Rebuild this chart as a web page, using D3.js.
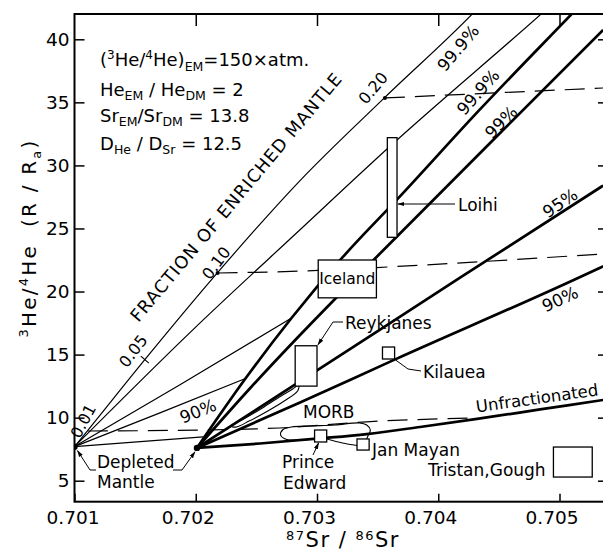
<!DOCTYPE html>
<html>
<head>
<meta charset="utf-8">
<script src="https://cdn.jsdelivr.net/npm/d3@7"></script>
<style>
body{margin:0;background:#fff;}
svg{display:block;font-family:"DejaVu Sans",sans-serif;}
text{white-space:pre;}
</style>
</head>
<body>
<script>
const xTicks = [0.701, 0.702, 0.703, 0.704, 0.705];
const yTicks = [5, 10, 15, 20, 25, 30, 35, 40];

// depleted mantle end members (87Sr/86Sr, 3He/4He)
const dmPoints = [[0.7010, 7.7], [0.70201, 7.6]];

// thin mixing curves from the 0.701 depleted mantle
const thin999 = [[0.7010,7.7],[0.70111,9.0],[0.70158,14.6],[0.70218,21.5],[0.70286,28.8],[0.70356,35.4],[0.70429,42.1],[0.70436,42.8]];
const thin99  = [[0.7010,7.7],[0.70198,17.0],[0.70286,24.9],[0.70360,31.5],[0.70486,42.1],[0.70493,42.7]];
const thin95  = [[0.7010,7.7],[0.70187,12.6],[0.70279,17.9]];
const thin90  = [[0.7010,7.7],[0.70171,10.4],[0.70241,13.1]];
const thinUnf = [[0.7010,7.7],[0.70206,8.47]];

// thick mixing curves from the 0.702 depleted mantle
const thick999 = [[0.70201,7.6],[0.70241,13.1],[0.70279,17.9],[0.70321,22.7],[0.70369,27.6],[0.70434,34.4],[0.70511,42.1],[0.70519,42.9]];
const thick99  = [[0.70201,7.6],[0.70245,12.35],[0.70286,16.55],[0.70327,20.6],[0.70368,24.56],[0.70451,32.57],[0.70536,40.74]];
const thick95  = [[0.70201,7.6],[0.70301,13.8],[0.70418,21.1],[0.70536,28.4]];
const thick90  = [[0.70201,7.6],[0.70286,11.2],[0.70364,14.6],[0.70509,20.8],[0.70536,22.0]];
const thickUnf = [[0.70201,7.6],[0.70253,7.95],[0.70302,8.35],[0.70341,8.70],[0.70385,9.26],[0.70432,9.90],[0.70484,10.65],[0.70536,11.40]];

// lines of equal fraction of enriched mantle
const frac01 = [[0.70111,8.94],[0.70204,9.02],[0.70269,9.18],[0.70344,9.69],[0.70430,9.97]];
const frac10 = [[0.70218,21.47],[0.70301,21.67],[0.70349,21.9],[0.70536,22.98]];
const frac20 = [[0.70356,35.35],[0.70536,36.14]];
const fracDots = [[0.70218,21.47],[0.70356,35.35]];
const fracTick = [0.70158,14.6];

// observed ranges
const boxNames = ["Loihi","Iceland","Reykjanes","Kilauea","Prince Edward","Jan Mayan","Tristan, Gough"];
const boxSr = [[0.70358,0.70366],[0.70301,0.70349],[0.70282,0.70300],[0.70354,0.70364],[0.70298,0.70308],[0.70333,0.70343],[0.70495,0.70527]];
const boxHe = [[24.3,32.2],[19.5,22.5],[12.5,15.7],[14.65,15.6],[8.07,9.02],[7.43,8.31],[5.29,7.67]];

// MORB fields
const morbLeaf = [[0.70229,9.34],[0.70241,9.97],[0.70255,10.77],[0.70269,11.64],[0.70280,12.27],[0.70285,12.59],[0.70284,12.11],[0.70273,11.32],[0.70258,10.45],[0.70244,9.73],[0.70233,9.25]];
const morbBlob = [[0.70298,8.31],[0.70286,8.23],[0.70275,8.27],[0.70270,8.62],[0.70272,9.06],[0.70279,9.26],[0.70294,9.34],[0.70315,9.42],[0.70335,9.58],[0.70341,9.42],[0.70344,9.02],[0.70342,8.54],[0.70341,8.31]];
const morbLink = [[0.70308,8.31],[0.70321,7.99],[0.70333,7.79]];

const width = 603, height = 551;
const pLeft = 74.5, pRight = 605, pTop = 14, pBottom = 501.7;

const x = d3.scaleLinear().domain([0.701, 0.705]).range([74.5, 559.5]);
const y = d3.scaleLinear().domain([5, 40]).range([480.7, 39.3]);

const svg = d3.select("body").append("svg")
  .attr("width", width).attr("height", height);
svg.append("rect").attr("width", width).attr("height", height).attr("fill", "#fff");

const defs = svg.append("defs");
defs.append("clipPath").attr("id", "plot")
  .append("rect").attr("x", pLeft).attr("y", pTop).attr("width", pRight - pLeft).attr("height", pBottom - pTop);
defs.append("marker").attr("id", "arr")
  .attr("viewBox", "0 -4 10 8").attr("refX", 9).attr("refY", 0)
  .attr("markerWidth", 7).attr("markerHeight", 6).attr("markerUnits", "userSpaceOnUse")
  .attr("orient", "auto")
  .append("path").attr("d", "M0,-3L10,0L0,3Z").attr("fill", "#000");

const line = d3.line().x(d => x(d[0])).y(d => y(d[1])).curve(d3.curveMonotoneX);
const closed = d3.line().x(d => x(d[0])).y(d => y(d[1])).curve(d3.curveCatmullRomClosed);
const open = d3.line().x(d => x(d[0])).y(d => y(d[1])).curve(d3.curveCatmullRom);

const plot = svg.append("g").attr("clip-path", "url(#plot)");

// dashed iso-fraction lines
[frac01, frac10, frac20].forEach(d => {
  plot.append("path").attr("d", line(d)).attr("fill", "none")
    .attr("stroke", "#000").attr("stroke-width", 1.2).attr("stroke-dasharray", "20,10");
});

// thin curves
[thin999, thin99, thin95, thin90, thinUnf].forEach(d => {
  plot.append("path").attr("d", line(d)).attr("fill", "none")
    .attr("stroke", "#000").attr("stroke-width", 1.2);
});

// thick curves
[thick999, thick99, thick95, thick90, thickUnf].forEach(d => {
  plot.append("path").attr("d", line(d)).attr("fill", "none")
    .attr("stroke", "#000").attr("stroke-width", 2.7);
});

// MORB
plot.append("path").attr("d", closed(morbLeaf)).attr("fill", "none").attr("stroke", "#000").attr("stroke-width", 1.1);
plot.append("path").attr("d", open(morbBlob)).attr("fill", "none").attr("stroke", "#000").attr("stroke-width", 1.1);
plot.append("path").attr("d", open(morbLink)).attr("fill", "none").attr("stroke", "#000").attr("stroke-width", 1.1);

// boxes
boxNames.forEach((n, i) => {
  plot.append("rect")
    .attr("x", x(boxSr[i][0])).attr("y", y(boxHe[i][1]))
    .attr("width", x(boxSr[i][1]) - x(boxSr[i][0]))
    .attr("height", y(boxHe[i][0]) - y(boxHe[i][1]))
    .attr("fill", "#fff").attr("stroke", "#000").attr("stroke-width", 1.3);
});

// fraction marks
fracDots.forEach(d => {
  plot.append("circle").attr("cx", x(d[0])).attr("cy", y(d[1])).attr("r", 2).attr("fill", "#000");
});
plot.append("line")
  .attr("x1", x(fracTick[0]) - 4).attr("y1", y(fracTick[1]) - 3.5)
  .attr("x2", x(fracTick[0]) + 4).attr("y2", y(fracTick[1]) + 3.5)
  .attr("stroke", "#000").attr("stroke-width", 1.2);

// depleted mantle points
dmPoints.forEach(d => {
  plot.append("circle").attr("cx", x(d[0])).attr("cy", y(d[1])).attr("r", 3.2).attr("fill", "#000");
});

// frame and ticks
svg.append("rect").attr("x", pLeft).attr("y", pTop).attr("width", pRight - pLeft).attr("height", pBottom - pTop)
  .attr("fill", "none").attr("stroke", "#000").attr("stroke-width", 2);

const xb = svg.append("g").attr("transform", `translate(0,${pBottom})`)
  .call(d3.axisBottom(x).tickValues(xTicks).tickSizeInner(-8).tickSizeOuter(0).tickPadding(9).tickFormat(d3.format(".3f")));
const xt = svg.append("g").attr("transform", `translate(0,${pTop})`)
  .call(d3.axisTop(x).tickValues(xTicks.slice(1)).tickSizeInner(-12).tickSizeOuter(0).tickFormat(""));
const yl = svg.append("g").attr("transform", `translate(${pLeft},0)`)
  .call(d3.axisLeft(y).tickValues(yTicks).tickSizeInner(-10).tickSizeOuter(0).tickPadding(5));
const yr = svg.append("g").attr("transform", `translate(${pRight},0)`)
  .call(d3.axisRight(y).tickValues(yTicks).tickSizeInner(-7).tickSizeOuter(0).tickFormat(""));
[xb, xt, yl, yr].forEach(g => {
  g.select(".domain").remove();
  g.selectAll(".tick line").attr("stroke", "#000").attr("stroke-width", 1.5);
  g.selectAll("text").attr("font-family", "DejaVu Sans").attr("font-size", 18.5).attr("fill", "#000");
});
xb.selectAll("text").attr("dx", d => d === 0.701 ? -2 : -8);

// rich text helper: parts = [text, offset, size]
function rich(g, px, py, parts, size) {
  const t = g.append("text").attr("x", px).attr("y", py).attr("font-size", size).attr("fill", "#000");
  let cur = 0;
  parts.forEach(([s, off, fs]) => {
    t.append("tspan").attr("dy", (off || 0) - cur).attr("font-size", fs || size).text(s);
    cur = off || 0;
  });
  return t;
}

// axis titles
rich(svg, 343, 547, [["87", -7, 13], ["Sr / ", 0], ["86", -7, 13], ["Sr", 0]], 21)
  .attr("text-anchor", "middle").attr("letter-spacing", 1.5);
const yt = svg.append("g").attr("transform", "translate(36,238) rotate(-90)");
rich(yt, 0, 0, [["3", -8, 13], ["He/", 0], ["4", -8, 13], ["He  (R / R", 0], ["a", 5, 13], [")", 0]], 20)
  .attr("text-anchor", "middle").attr("letter-spacing", 2.2);

// parameter block
rich(svg, 100, 66, [["(", 0], ["3", -7, 12], ["He/", 0], ["4", -7, 12], ["He)", 0], ["EM", 5, 12.5], ["=150×atm.", 0]], 18);
rich(svg, 100, 96, [["He", 0], ["EM", 4, 12.5], [" / He", 0], ["DM", 4, 12.5], [" = 2", 0]], 18);
rich(svg, 100, 122, [["Sr", 0], ["EM", 4, 12.5], ["/Sr", 0], ["DM", 4, 12.5], [" = 13.8", 0]], 18);
rich(svg, 100, 150, [["D", 0], ["He", 4, 12.5], [" / D", 0], ["Sr", 4, 12.5], [" = 12.5", 0]], 18);

// rotated labels
const rotLabels = [
  ["0.01", 83, 421, -62, 16], ["0.05", 133, 351, -53, 16], ["0.10", 216, 263, -53, 16], ["0.20", 373, 88, -50, 16],
  ["99.9%", 458, 48, -50, 17], ["99.9%", 478, 92, -48, 17], ["99%", 501, 122, -45, 17],
  ["95%", 560, 203, -34, 17], ["90%", 560, 299, -25, 17], ["90%", 198, 411, -22, 17],
  ["Unfractionated", 537, 398, -8, 16.5]
];
rotLabels.forEach(([s, cx, cy, a, fs]) => {
  svg.append("text").attr("transform", `translate(${cx},${cy}) rotate(${a})`)
    .attr("text-anchor", "middle").attr("dy", "0.36em").attr("font-size", fs).text(s);
});
svg.append("text").attr("transform", "translate(236,197) rotate(-50)")
  .attr("text-anchor", "middle").attr("dy", "0.36em").attr("font-size", 17.5)
  .attr("letter-spacing", 1).text("FRACTION OF ENRICHED MANTLE");

// sample labels
const ann = svg.append("g").attr("font-size", 17).attr("fill", "#000");
ann.append("text").attr("x", x(d3.mean(boxSr[1]))).attr("y", y(d3.mean(boxHe[1]))).attr("dy", "0.36em")
  .attr("text-anchor", "middle").attr("font-size", 15.5).text("Iceland");
ann.append("text").attr("x", 458).attr("y", 211).text("Loihi");
ann.append("text").attr("x", 345).attr("y", 329).text("Reykjanes");
ann.append("text").attr("x", 423).attr("y", 378).text("Kilauea");
ann.append("text").attr("x", 303).attr("y", 418).text("MORB");
ann.append("text").attr("x", 372).attr("y", 456).text("Jan Mayan");
ann.append("text").attr("x", 428).attr("y", 476).text("Tristan,Gough");
ann.append("text").attr("x", 282).attr("y", 468).text("Prince");
ann.append("text").attr("x", 283).attr("y", 489).text("Edward");
ann.append("text").attr("x", 97).attr("y", 468).text("Depleted");
ann.append("text").attr("x", 97).attr("y", 488).text("Mantle");

// leaders
const leader = (pts, arrow) => {
  const p = svg.append("path").attr("d", d3.line()(pts)).attr("fill", "none")
    .attr("stroke", "#000").attr("stroke-width", 1);
  if (arrow) p.attr("marker-end", "url(#arr)");
};
leader([[455, 204], [x(boxSr[0][1]) + 1, 204]], true);
leader([[343, 322], [333, 322], [x(boxSr[2][1]) + 1, y(boxHe[2][1]) - 1]], true);
leader([[421, 371], [408, 369], [x(boxSr[3][1]) + 1, y(boxHe[3][0]) + 1]], false);
leader([[313, 455], [x(boxSr[4][0]) + 4, y(boxHe[4][0]) + 1]], true);
leader([[96, 470], [90, 470], [x(dmPoints[0][0]) + 3, y(dmPoints[0][1]) + 4]], true);
leader([[173, 470], [182, 470], [x(dmPoints[1][0]) - 2, y(dmPoints[1][1]) + 4]], true);
</script>
</body>
</html>
